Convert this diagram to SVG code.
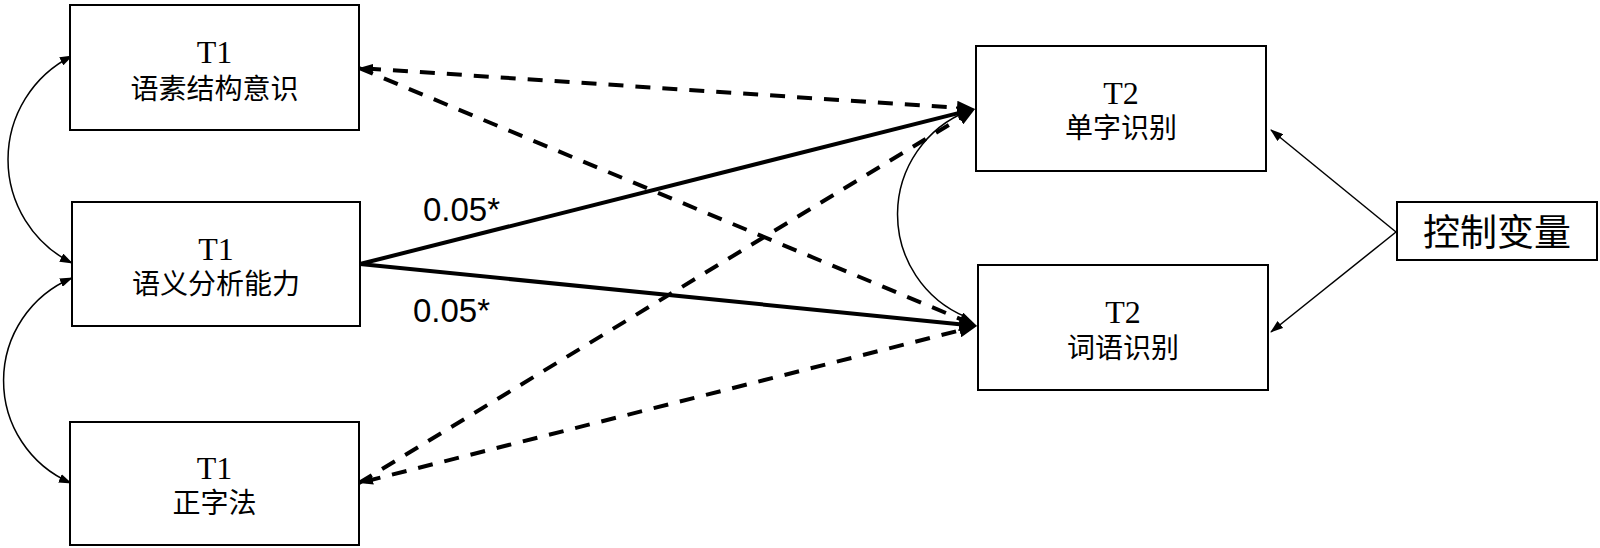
<svg xmlns="http://www.w3.org/2000/svg" width="1600" height="548" viewBox="0 0 1600 548">
<style>
.box{fill:#fff;stroke:#000;stroke-width:2}
.tn{font-family:"Liberation Serif","Times New Roman",serif;font-size:32px;text-anchor:middle;fill:#000}
.cn{font-family:"Noto Sans CJK SC","Noto Sans",sans-serif;font-size:28px;text-anchor:middle;fill:#000}
.ctl{font-family:"Noto Sans CJK SC","Noto Sans",sans-serif;font-size:37px;text-anchor:middle;fill:#000}
.lbl{font-family:"Liberation Sans",Arial,sans-serif;font-size:33px;fill:#000}
.dash{fill:none;stroke:#000;stroke-width:4;stroke-dasharray:15 12}
.solid{fill:none;stroke:#000;stroke-width:4}
.thin{fill:none;stroke:#000;stroke-width:1.5}
</style>
<defs>
<marker id="big" markerUnits="userSpaceOnUse" markerWidth="18" markerHeight="14" refX="8" refY="7" orient="auto">
<path d="M0,0 L18,7 L0,14 z" fill="#000"/>
</marker>
<marker id="small" markerUnits="userSpaceOnUse" markerWidth="14" markerHeight="10" refX="7" refY="5" orient="auto-start-reverse">
<path d="M0,0 L14,5 L0,10 z" fill="#000"/>
</marker>
<marker id="tiny" markerUnits="userSpaceOnUse" markerWidth="13" markerHeight="9" refX="12" refY="4.5" orient="auto-start-reverse">
<path d="M0,0 L13,4.5 L0,9 z" fill="#000"/>
</marker>
</defs>

<g id="connectors">
<path class="dash" d="M366,68.5 L965,108.3" marker-start="url(#small)" marker-end="url(#big)"/>
<path class="dash" d="M359,68 L967.8,322.1" marker-end="url(#big)"/>
<path class="solid" d="M360,264 L965.3,111.4" marker-end="url(#big)"/>
<path class="solid" d="M360,264 L967,325" marker-end="url(#big)"/>
<path class="dash" d="M359,483 L966.5,114.2" marker-end="url(#big)"/>
<path class="dash" d="M365.8,481.3 L967.3,328.5" marker-start="url(#small)" marker-end="url(#big)"/>
<path class="thin" d="M72,56 A115.7,115.7 0 0,0 72,263" marker-start="url(#tiny)" marker-end="url(#tiny)"/>
<path class="thin" d="M72,278 A111.3,111.3 0 0,0 71,483" marker-start="url(#tiny)" marker-end="url(#tiny)"/>
<path class="thin" d="M968,111 A111.1,111.1 0 0,0 966,317"/>
<path class="thin" d="M1396,232 L1271,130" marker-end="url(#tiny)"/>
<path class="thin" d="M1396,232 L1271,332" marker-end="url(#tiny)"/>
<text class="lbl" x="423" y="221">0.05*</text>
<text class="lbl" x="413" y="322">0.05*</text>
</g>

<g id="node-t1-morph">
<rect class="box" x="70" y="5" width="289" height="125"/>
<text class="tn" x="214.5" y="63">T1</text>
<text class="cn" x="214.5" y="99">语素结构意识</text>
</g>
<g id="node-t1-semantic">
<rect class="box" x="72" y="202" width="288" height="124"/>
<text class="tn" x="216" y="260">T1</text>
<text class="cn" x="216" y="294">语义分析能力</text>
</g>
<g id="node-t1-ortho">
<rect class="box" x="70" y="422" width="289" height="123"/>
<text class="tn" x="214.5" y="479">T1</text>
<text class="cn" x="214.5" y="513">正字法</text>
</g>
<g id="node-t2-char">
<rect class="box" x="976" y="46" width="290" height="125"/>
<text class="tn" x="1121" y="104">T2</text>
<text class="cn" x="1121" y="138">单字识别</text>
</g>
<g id="node-t2-word">
<rect class="box" x="978" y="265" width="290" height="125"/>
<text class="tn" x="1123" y="323">T2</text>
<text class="cn" x="1123" y="358">词语识别</text>
</g>
<g id="node-control">
<rect class="box" x="1397" y="202" width="200" height="58"/>
<text class="ctl" x="1497" y="246">控制变量</text>
</g>
</svg>
